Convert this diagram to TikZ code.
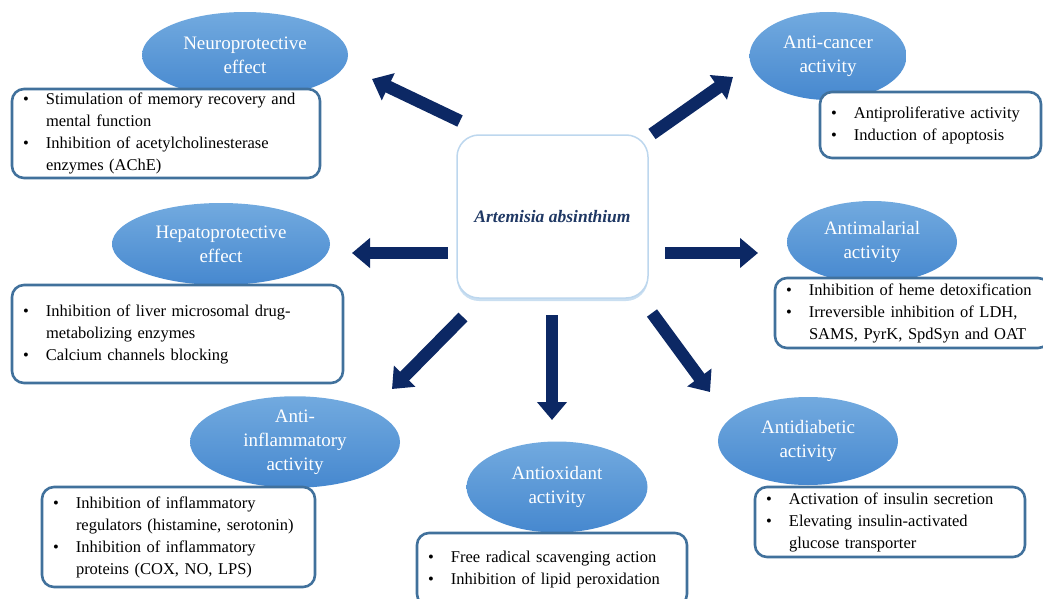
\documentclass[tikz,border=0pt]{standalone}
\usepackage{fontspec}
\setmainfont{Liberation Serif}
\usetikzlibrary{arrows.meta,shapes.geometric,shadows}

\definecolor{navyarrow}{RGB}{12,40,100}
\definecolor{boxline}{RGB}{65,113,156}
\definecolor{elltop}{RGB}{114,170,223}
\definecolor{ellbot}{RGB}{70,136,207}
\definecolor{glow}{RGB}{189,215,238}
\definecolor{titlenavy}{RGB}{31,56,100}

\newcommand{\bul}{\makebox[23pt][l]{\textbullet}}
\newcommand{\ind}{\hspace*{23pt}}

\begin{document}
\begin{tikzpicture}[x=1pt,y=-1pt,
    effect/.style={ellipse,top color=elltop,bottom color=ellbot,text=white,align=center,inner sep=0pt,font=\fontsize{19}{24}\selectfont},
    listbox/.style={draw=boxline,line width=2.6pt,rounded corners=12pt,fill=white,align=left,inner xsep=11pt,inner ysep=0pt,font=\fontsize{16.5}{22}\selectfont},
    bigarrow/.style={draw=navyarrow,line width=12.5pt,-{Triangle[length=18pt,width=29pt]}}]
  \useasboundingbox (0,0) rectangle (1043,599);

  % centre
  \node[draw=glow,line width=1.5pt,fill=white,rounded corners=22pt,minimum width=191pt,minimum height=163pt,
        drop shadow={fill=glow,shadow xshift=0pt,shadow yshift=-3pt,opacity=0.8}] (plant) at (552.5,216.5)
        {\fontsize{17.5}{20}\selectfont\bfseries\itshape\color{titlenavy}Artemisia absinthium};

  % effects
  \node[effect,minimum width=206pt,minimum height=86pt] (neuro)  at (245,55)  {Neuroprotective\\effect};
  \node[effect,minimum width=157pt,minimum height=88pt] (cancer) at (828,56)  {Anti-cancer\\activity};
  \node[effect,minimum width=218pt,minimum height=82pt] (hepato) at (221,244) {Hepatoprotective\\effect};
  \node[effect,minimum width=170pt,minimum height=82pt] (malaria) at (872,242) {Antimalarial\\activity};
  \node[effect,minimum width=210pt,minimum height=90pt] (inflam) at (295,442) {Anti-\\inflammatory\\activity};
  \node[effect,minimum width=181pt,minimum height=91pt] (oxid)   at (557,487) {Antioxidant\\activity};
  \node[effect,minimum width=180pt,minimum height=88pt] (diab)   at (808,441) {Antidiabetic\\activity};

  % lists
  \node[listbox,text width=286pt,minimum height=89pt] (neuroList) at (166,133.5)
    {\bul Stimulation of memory recovery and\\ \ind mental function\\ \bul Inhibition of acetylcholinesterase\\ \ind enzymes (AChE)};
  \node[listbox,text width=199pt,minimum height=66pt] (cancerList) at (930.5,125)
    {\bul Antiproliferative activity\\ \bul Induction of apoptosis};
  \node[listbox,text width=309pt,minimum height=98pt] (hepatoList) at (177.5,334)
    {\bul Inhibition of liver microsomal drug-\\ \ind metabolizing enzymes\\ \bul Calcium channels blocking};
  \node[listbox,text width=253pt,minimum height=70pt] (malariaList) at (912.5,313)
    {\bul Inhibition of heme detoxification\\ \bul Irreversible inhibition of LDH,\\ \ind SAMS, PyrK, SpdSyn and OAT};
  \node[listbox,text width=251pt,minimum height=100pt] (inflamList) at (178.5,537)
    {\bul Inhibition of inflammatory\\ \ind regulators (histamine, serotonin)\\ \bul Inhibition of inflammatory\\ \ind proteins (COX, NO, LPS)};
  \node[listbox,text width=248pt,minimum height=73pt] (oxidList) at (552,569.5)
    {\bul Free radical scavenging action\\ \bul Inhibition of lipid peroxidation};
  \node[listbox,text width=248pt,minimum height=70pt] (diabList) at (890,522)
    {\bul Activation of insulin secretion\\ \bul Elevating insulin-activated\\ \ind glucose transporter};

  % arrows
  \coordinate (neuroTail)   at (460,121);  \coordinate (neuroTip)   at (372,79);
  \coordinate (cancerTail)  at (652,134);  \coordinate (cancerTip)  at (733,77);
  \coordinate (hepatoTail)  at (448,253);  \coordinate (hepatoTip)  at (352,253);
  \coordinate (malariaTail) at (665,253);  \coordinate (malariaTip) at (758,253);
  \coordinate (inflamTail)  at (463,317);  \coordinate (inflamTip)  at (392,389);
  \coordinate (oxidTail)    at (552,315);  \coordinate (oxidTip)    at (552,420);
  \coordinate (diabTail)    at (652,313);  \coordinate (diabTip)    at (710,392);

  \draw[bigarrow] (neuroTail) -- (neuroTip);
  \draw[bigarrow] (cancerTail) -- (cancerTip);
  \draw[bigarrow] (hepatoTail) -- (hepatoTip);
  \draw[bigarrow] (malariaTail) -- (malariaTip);
  \draw[bigarrow] (inflamTail) -- (inflamTip);
  \draw[bigarrow] (oxidTail) -- (oxidTip);
  \draw[bigarrow] (diabTail) -- (diabTip);
\end{tikzpicture}
\end{document}
